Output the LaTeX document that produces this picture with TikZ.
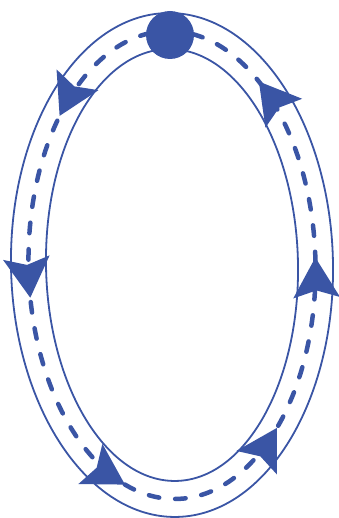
\documentclass[tikz,border=0pt]{standalone}
\usetikzlibrary{arrows.meta,decorations.markings}
\definecolor{ringblue}{RGB}{58,85,165}
\begin{document}
\begin{tikzpicture}[x=1pt,y=1pt,
  wall/.style={draw=ringblue,line width=1.8pt},
  flow/.style={draw=ringblue,line width=4.5pt,line cap=round,dash pattern=on 10.5pt off 16pt},
  flowtip/.style={postaction={decorate,decoration={markings,
    mark=at position #1 with {\arrow[ringblue]{Stealth[length=40pt,width=46pt,inset=7pt]}}}}}]
\useasboundingbox (0,0) rectangle (339,518);
\draw[wall,rotate around={1.1:(172,253)}] (172,253) ellipse [x radius=161,y radius=252];
\draw[wall,rotate around={1.1:(172,253)}] (172,253) ellipse [x radius=126,y radius=216];
\draw[flow,rotate around={1.1:(172,253)},flowtip=0.004,flowtip=0.16,flowtip=0.37,flowtip=0.525,flowtip=0.705,flowtip=0.857]
  (172,253) ellipse [x radius=143.5,y radius=234];
\node[circle,fill=ringblue,inner sep=0pt,minimum size=48pt] (src) at (170,483) {};
\end{tikzpicture}
\end{document}
